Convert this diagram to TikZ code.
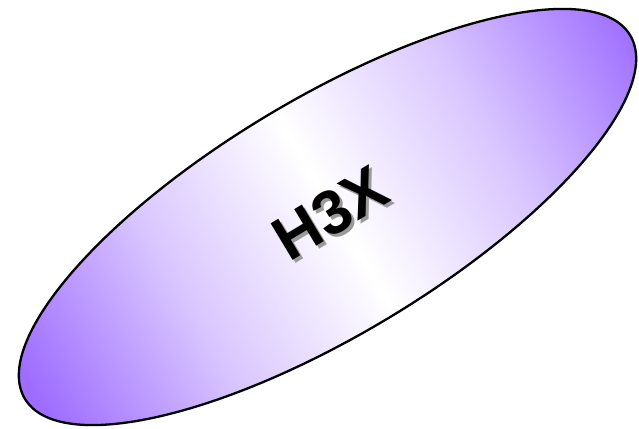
\documentclass[tikz,border=0pt]{standalone}
\usepackage{fontspec}
\setmainfont{Liberation Sans}
\usepackage{xcolor}
\usepackage{tikz}
\usetikzlibrary{shapes.geometric}
\definecolor{violet}{HTML}{9E6DFF}
\definecolor{shadow}{HTML}{9A9A9A}
\pgfdeclarehorizontalshading{glow}{100bp}{color(0bp)=(violet); color(20bp)=(violet); color(35bp)=(violet!40!white); color(50bp)=(white); color(65bp)=(violet!40!white); color(80bp)=(violet); color(100bp)=(violet)}
\tikzset{blob/.style={ellipse,draw=black,line width=2.3pt,minimum width=706pt,minimum height=236pt,inner sep=0pt,shading=glow,shading angle=31},bigtext/.style={font=\fontsize{62}{62}\selectfont\bfseries,inner sep=0pt}}

\begin{document}
\begin{tikzpicture}[x=1pt,y=1pt]
\useasboundingbox (0,0) rectangle (639,428);
\node[blob,rotate=31] (h3x) at (327.5,211) {};
\node[bigtext,text=shadow,rotate=31] (h3xshadow) at ([shift={(6,1)}]h3x.center) {H3X};
\node[bigtext,rotate=31] (h3xtext) at ([shift={(3,4)}]h3x.center) {H3X};
\end{tikzpicture}
\end{document}
